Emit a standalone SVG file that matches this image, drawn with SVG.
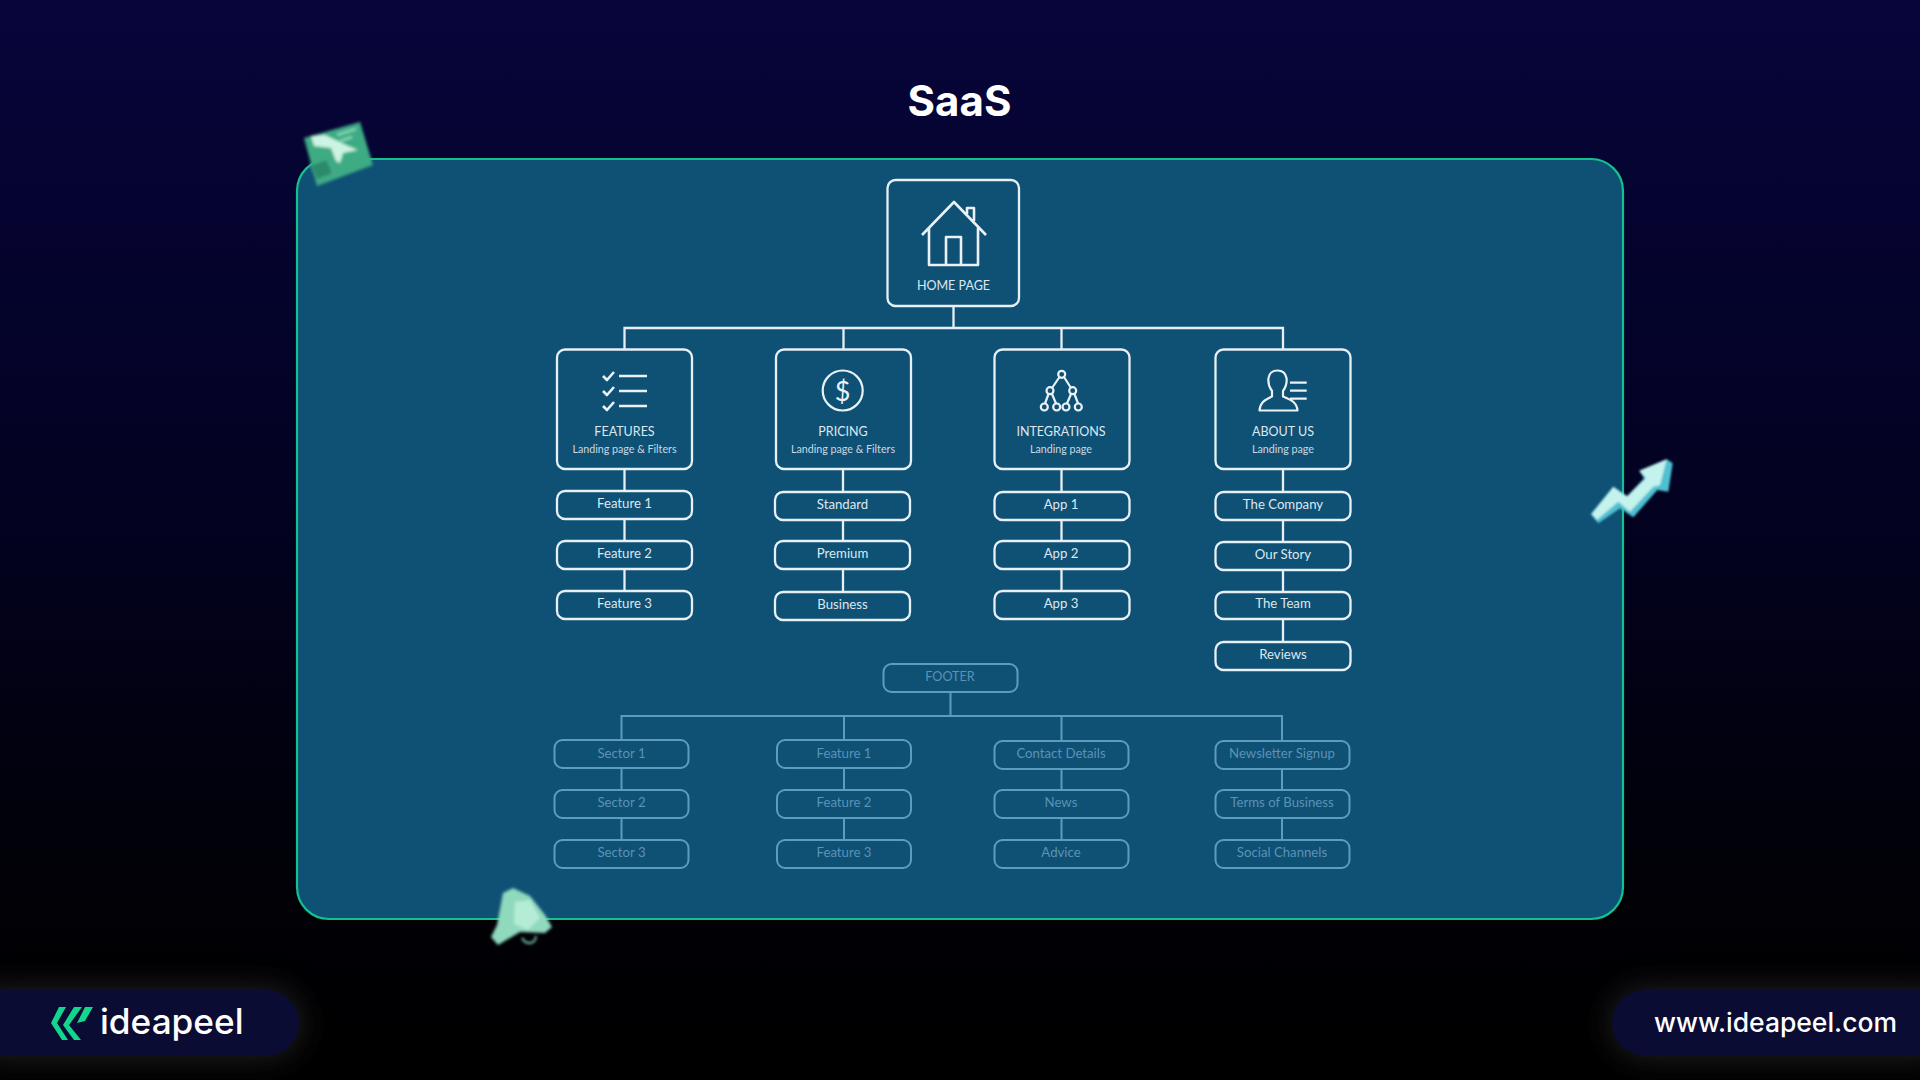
<svg xmlns="http://www.w3.org/2000/svg" width="1920" height="1080" viewBox="0 0 1920 1080">
<style>
text{font-family:Lato,"Noto Sans",sans-serif;text-anchor:middle}
.box{fill:none;stroke:#e6f0f5;stroke-width:2.3}
.t{font-size:13.2px;fill:#dce8ef}
.h{font-size:12.5px;fill:#dce8ef}
.s{font-size:10.7px;fill:#c8d9e3}
.f{fill:none;stroke:#5e9bc0;stroke-width:2}
.ft{font-size:13.2px;fill:#5a93b6}
.ic{fill:none;stroke:#eaf2f6;stroke-width:2.2;stroke-linejoin:round}
.house{stroke-width:2.6}
.c{fill:none;stroke:#e6f0f5;stroke-width:2.3}
.cf{fill:none;stroke:#5e9bc0;stroke-width:2}
.brand{font-family:Inter,"Noto Sans",sans-serif;fill:#fff;text-anchor:start}
</style>
<defs>
<linearGradient id="bg" x1="0" y1="0" x2="0" y2="1"><stop offset="0" stop-color="#07053a"/><stop offset=".45" stop-color="#030222"/><stop offset=".8" stop-color="#010108"/><stop offset="1" stop-color="#000"/></linearGradient>
<filter id="b1" x="-20%" y="-20%" width="140%" height="140%"><feGaussianBlur stdDeviation="1"/></filter>
<filter id="b2" x="-20%" y="-20%" width="140%" height="140%"><feGaussianBlur stdDeviation="1.7"/></filter>
<filter id="glow" x="-20%" y="-60%" width="140%" height="220%"><feGaussianBlur stdDeviation="16"/></filter>
</defs>
<rect width="1920" height="1080" fill="url(#bg)"/>
<text x="959.500" y="116" style="font-family:Inter,'Noto Sans',sans-serif;font-size:42px;font-weight:700;fill:#fff">SaaS</text>
<rect id="panel" x="297" y="159" width="1326" height="760" rx="32" fill="#0f5075" stroke="#14c08f" stroke-width="2.2"/>

<g id="connectors">
<path class="c" d="M953.500 306V328M624.500 349V328H1283V349M843.500 328V349M1061.500 328V349"/>
<path class="c" d="M624.500 469V491M624.500 519V541M624.500 569V591"/>
<path class="c" d="M843 469V492M843 520V541M843 569V592"/>
<path class="c" d="M1061.500 469V492M1061.500 520V541M1061.500 569V591"/>
<path class="c" d="M1283 469V492M1283 520V542M1283 570V592M1283 619V642"/>
<path class="cf" d="M950.500 692V716M621.500 740V716H1282V741M844 716V740M1061.500 716V741"/>
<path class="cf" d="M621.500 768V790M621.500 818V840M844 768V790M844 818V840M1061.500 769V790M1061.500 818V840M1282 769V790M1282 818V840"/>
</g>

<g id="home"><rect class="box" x="887.500" y="180" width="131.500" height="126" rx="8"/>
<path class="ic house" d="M922 235L954 202L986 235M929 228V265H978V228M946 265V237H961V265M967 214V208H974V221"/>
<text class="h" x="953.500" y="290">HOME PAGE</text></g>

<g id="features"><rect class="box" x="557" y="349.500" width="135" height="119.500" rx="8"/>
<path class="ic house" d="M603 376l4 4 7-8M603 391l4 4 7-8M603 406l4 4 7-8M619 376H647M619 391H647M619 406H647"/>
<text class="h" x="624.500" y="435.500">FEATURES</text><text class="s" x="624.500" y="453">Landing page &amp; Filters</text></g>
<g id="pricing"><rect class="box" x="776" y="349.500" width="135" height="119.500" rx="8"/>
<circle class="ic" cx="842.700" cy="390.500" r="20"/>
<text x="842.700" y="400.500" style="font-size:27px;fill:#eaf2f6">$</text>
<text class="h" x="843" y="435.500">PRICING</text><text class="s" x="843" y="453">Landing page &amp; Filters</text></g>
<g id="integrations"><rect class="box" x="994.500" y="349.500" width="135" height="119.500" rx="8"/>
<path class="ic" d="M1059.500 377L1052 388M1064 377L1071 388M1048.500 394L1045 403.500M1052 394L1056 403.500M1071 394L1067 403.500M1074.500 394L1078 403.500"/>
<g class="ic"><circle cx="1061.700" cy="374.300" r="3.500"/><circle cx="1050" cy="390.700" r="3.500"/><circle cx="1072.700" cy="390.700" r="3.500"/><circle cx="1044.300" cy="407" r="3.500"/><circle cx="1056.700" cy="407" r="3.500"/><circle cx="1066" cy="407" r="3.500"/><circle cx="1078.300" cy="407" r="3.500"/></g>
<text class="h" x="1061" y="435.500">INTEGRATIONS</text><text class="s" x="1061" y="453">Landing page</text></g>
<g id="about"><rect class="box" x="1215.500" y="349.500" width="135" height="119.500" rx="8"/>
<path class="ic" d="M1259.500 410.500H1297.500C1297 403 1292 400 1283 396.500V391C1286 387 1287 382 1286.500 378C1285.500 373 1282 370.500 1277.500 370.500C1272.500 370.500 1269 373.500 1268.500 378C1268 382 1269 387 1272 391V396.500C1264 400 1260 403 1259.500 410.500ZM1290 382.700H1306.700M1290 390.700H1306.700M1290 398.700H1306.700"/>
<text class="h" x="1283" y="435.500">ABOUT US</text><text class="s" x="1283" y="453">Landing page</text></g>

<g id="feature-1"><rect class="box" x="557" y="491" width="135" height="28" rx="8"/><text class="t" x="624.500" y="508">Feature 1</text></g>
<g id="feature-2"><rect class="box" x="557" y="541" width="135" height="28" rx="8"/><text class="t" x="624.500" y="558">Feature 2</text></g>
<g id="feature-3"><rect class="box" x="557" y="591" width="135" height="28" rx="8"/><text class="t" x="624.500" y="608">Feature 3</text></g>
<g id="standard"><rect class="box" x="775" y="492" width="135" height="28" rx="8"/><text class="t" x="842.500" y="509">Standard</text></g>
<g id="premium"><rect class="box" x="775" y="541" width="135" height="28" rx="8"/><text class="t" x="842.500" y="558">Premium</text></g>
<g id="business"><rect class="box" x="775" y="592" width="135" height="28" rx="8"/><text class="t" x="842.500" y="609">Business</text></g>
<g id="app-1"><rect class="box" x="994.500" y="492" width="135" height="28" rx="8"/><text class="t" x="1061" y="509">App 1</text></g>
<g id="app-2"><rect class="box" x="994.500" y="541" width="135" height="28" rx="8"/><text class="t" x="1061" y="558">App 2</text></g>
<g id="app-3"><rect class="box" x="994.500" y="591" width="135" height="28" rx="8"/><text class="t" x="1061" y="608">App 3</text></g>
<g id="company"><rect class="box" x="1215.500" y="492" width="135" height="28" rx="8"/><text class="t" x="1283" y="509">The Company</text></g>
<g id="story"><rect class="box" x="1215.500" y="542" width="135" height="28" rx="8"/><text class="t" x="1283" y="559">Our Story</text></g>
<g id="team"><rect class="box" x="1215.500" y="592" width="135" height="27" rx="8"/><text class="t" x="1283" y="608">The Team</text></g>
<g id="reviews"><rect class="box" x="1215.500" y="642" width="135" height="28" rx="8"/><text class="t" x="1283" y="659">Reviews</text></g>

<g id="footer"><rect class="f" x="883.500" y="664" width="134" height="28" rx="8"/><text class="ft" x="950" y="681" style="font-size:12.6px">FOOTER</text></g>
<g id="sector-1"><rect class="f" x="554.500" y="740" width="134" height="28" rx="8"/><text class="ft" x="621.500" y="757.500">Sector 1</text></g>
<g id="sector-2"><rect class="f" x="554.500" y="790" width="134" height="28" rx="8"/><text class="ft" x="621.500" y="806.500">Sector 2</text></g>
<g id="sector-3"><rect class="f" x="554.500" y="840" width="134" height="28" rx="8"/><text class="ft" x="621.500" y="856.500">Sector 3</text></g>
<g id="ffeature-1"><rect class="f" x="777" y="740" width="134" height="28" rx="8"/><text class="ft" x="844" y="757.500">Feature 1</text></g>
<g id="ffeature-2"><rect class="f" x="777" y="790" width="134" height="28" rx="8"/><text class="ft" x="844" y="806.500">Feature 2</text></g>
<g id="ffeature-3"><rect class="f" x="777" y="840" width="134" height="28" rx="8"/><text class="ft" x="844" y="856.500">Feature 3</text></g>
<g id="contact"><rect class="f" x="994.500" y="741" width="134" height="28" rx="8"/><text class="ft" x="1061" y="757.500">Contact Details</text></g>
<g id="news"><rect class="f" x="994.500" y="790" width="134" height="28" rx="8"/><text class="ft" x="1061" y="806.500">News</text></g>
<g id="advice"><rect class="f" x="994.500" y="840" width="134" height="28" rx="8"/><text class="ft" x="1061" y="856.500">Advice</text></g>
<g id="newsletter"><rect class="f" x="1215.500" y="741" width="134" height="28" rx="8"/><text class="ft" x="1282" y="757.500">Newsletter Signup</text></g>
<g id="terms"><rect class="f" x="1215.500" y="790" width="134" height="28" rx="8"/><text class="ft" x="1282" y="806.500">Terms of Business</text></g>
<g id="social"><rect class="f" x="1215.500" y="840" width="134" height="28" rx="8"/><text class="ft" x="1282" y="856.500">Social Channels</text></g>

<g id="deco-ticket" filter="url(#b2)">
<path d="M304 138L360 122L373 165L317 186Z" fill="#3dab84"/>
<path d="M310 165L327 159L333 174L317 180Z" fill="#2a8a6a" stroke="#4fb892"/>
<path d="M337 135L356 129M340 141L352 137" stroke="#8fe0c0" stroke-width="2"/>
<path d="M311 136L325 135L348 146L358 150L343 153L340 163L336 161L331 148L314 146Z" fill="#cdf4e3"/>
</g>
<g id="deco-arrow" filter="url(#b1)">
<path d="M1590.700 514L1613.300 486.700L1627.300 496L1644 478.300L1639.300 470.700L1666.700 459.300L1672.700 463.300L1668.300 491.700L1657.300 490L1633.300 517.300L1620 508.300L1598.300 523.300Z" fill="#4fc0d2"/>
<path d="M1591.700 514L1613.300 486.700L1626.700 496.700L1646 478.300L1639.300 470.700L1666.700 459.300L1660 485L1653.300 486.700L1630 511.700L1618.300 501.700L1596.700 520Z" fill="#c4f2ec"/>
</g>
<g id="deco-megaphone" filter="url(#b2)">
<path d="M503 893L513 888L530 896L545 915L552 927L545 933L520 932L498 945L491 937L497 925Z" fill="#8fd9bd"/>
<path d="M515 902L530 900L540 918L528 930L514 924Z" fill="#b5ecd6"/>
<path d="M522 938C526 945 535 945 536 936" fill="none" stroke="#7fc9ae" stroke-width="2"/>
</g>

<rect x="-40" y="990" width="340" height="66" rx="33" fill="#3a3a3a" opacity=".6" filter="url(#glow)"/>
<rect x="1612" y="990" width="348" height="66" rx="33" fill="#3a3a3a" opacity=".6" filter="url(#glow)"/>
<g id="brand-left"><rect x="-40" y="990" width="339" height="66" rx="33" fill="#0a0c33"/>
<path fill="#12d68e" d="M59 1007H66L57 1023L68 1040H62L51 1023ZM74 1007H82L69 1025L81 1040H74L63 1025ZM85 1007H93L85 1021L77 1023Z"/>
<text class="brand" x="100" y="1034" style="font-size:35.200px;font-weight:500">ideapeel</text></g>
<g id="brand-right"><rect x="1612" y="990" width="348" height="66" rx="33" fill="#0a0c33"/>
<text class="brand" x="1654" y="1032" style="font-size:26.500px;font-weight:500">www.ideapeel.com</text></g>
</svg>
